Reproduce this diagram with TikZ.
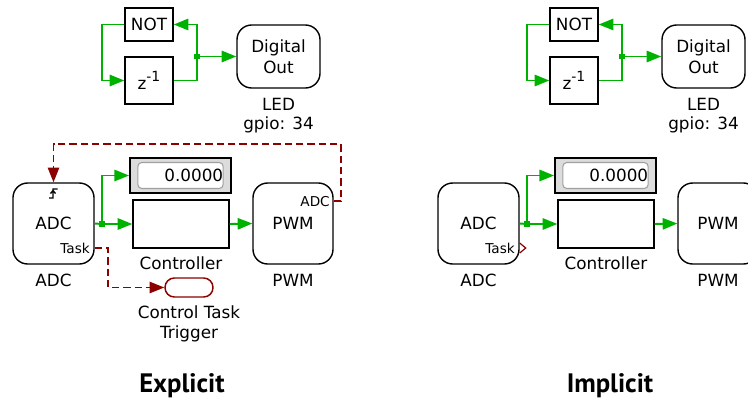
\documentclass[tikz,border=0pt]{standalone}
\usepackage{fontspec}
\setmainfont{DejaVu Sans}
\newfontfamily\titlefont{PT Sans}
\usetikzlibrary{arrows.meta}

\definecolor{sig}{RGB}{0,178,0}
\definecolor{trg}{RGB}{140,0,0}
\definecolor{dispfill}{RGB}{220,220,220}
\definecolor{dispedge}{RGB}{160,160,160}

\tikzset{
  txt/.style={font=\fontsize{12.6}{15.75}\selectfont},
  blk/.style={txt, draw=black, line width=1.05pt, fill=white, inner sep=0pt},
  rblk/.style={blk, rounded corners=11pt},
  lbl/.style={txt, anchor=base, inner sep=0pt},
  small/.style={anchor=base east, inner sep=0pt, font=\fontsize{10.2}{12}\selectfont},
  wire/.style={draw=sig, line width=1.45pt},
  arr/.style={wire, -{Triangle[length=11pt,width=8.5pt]}},
  trig/.style={draw=trg, line width=1.2pt, dash pattern=on 5.5pt off 3pt},
  trigarr/.style={trig, -{Triangle[length=11pt,width=8.5pt]}},
  junc/.style={fill=sig, inner sep=0pt, minimum size=4pt},
  heading/.style={anchor=base, inner sep=0pt, font=\titlefont\bfseries\fontsize{20}{24}\selectfont},
}

% Parts shared by both variants: toggling LED output and the ADC/PWM loop
\newcommand{\commonparts}{%
  % toggle loop driving the LED
  \node[blk, minimum width=36pt, minimum height=24.75pt] (NOT) at (149,24.5) {NOT};
  \node[blk, minimum width=36pt, minimum height=35.25pt] (Z) at (149,80.5)
    {z\raisebox{0.45em}{\fontsize{10.5}{10.5}\selectfont -1}};
  \node[rblk, minimum width=62.25pt, minimum height=47.25pt, align=center] (DOut) at (278.5,56.5) {Digital\\Out};
  \node[lbl] (LEDlbl) at (278.5,110) {LED};
  \node[lbl] (GPIOlbl) at (278.5,129.5) {gpio: 34};
  \node[junc] (J1) at (197,56.5) {};
  \coordinate (loopcorner) at (102,80.5);
  \draw[wire] (Z.east) -| (J1.center);
  \draw[arr] (J1.center) |- (NOT.east);
  \draw[wire] (NOT.west) -| (loopcorner);
  \draw[arr] (loopcorner) -- (Z.west);
  \draw[arr] (J1.center) -- (DOut.west);
  % ADC, display, controller and PWM
  \node[rblk, minimum width=60.75pt, minimum height=60.75pt] (ADC) at (53.5,223.5) {ADC};
  \node[lbl] (ADClbl) at (53.5,286) {ADC};
  \node[draw=black, line width=1.4pt, fill=dispfill, inner sep=0pt,
        minimum width=75.75pt, minimum height=26.25pt] (Disp) at (180.5,175.5) {};
  \node[txt, draw=dispedge, line width=0.8pt, fill=white, rounded corners=3pt,
        inner xsep=0pt, inner ysep=0pt, text width=64pt, align=right,
        minimum height=19.5pt] (DispIn) at (180.5,175.5) {0.0000};
  \node[blk, minimum width=72pt, minimum height=36pt] (Ctrl) at (181,224) {};
  \node[lbl] (Ctrllbl) at (181,269) {Controller};
  \node[rblk, minimum width=60pt, minimum height=60.75pt] (PWM) at (293,223.5) {PWM};
  \node[lbl] (PWMlbl) at (293,286) {PWM};
  \node[junc] (J2) at (102,224) {};
  \draw[wire] (ADC.east) -- (J2.center);
  \draw[arr] (J2.center) |- (Disp.west);
  \draw[arr] (J2.center) -- (Ctrl.west);
  \draw[arr] (Ctrl.east) -- (PWM.west);
  \node[small] (Tasklbl) at (90,253) {Task};
}

\begin{document}
\begin{tikzpicture}[x=0.75pt, y=-0.75pt]
  \clip (0,0) rectangle (748,400);
  \fill[white] (0,0) rectangle (748,400);

  % explicit triggering
  \begin{scope}[name prefix=E-]
    \commonparts
    \node[small] (ADCport) at (330,206) {ADC};
    \coordinate (pwmport) at ([yshift=16.9pt]PWM.east);
    \coordinate (topcorner) at (341,144);
    \draw[trigarr] (pwmport) -| (topcorner) -| (ADC.north);
    % rising-edge trigger mark on the ADC
    \draw[line width=1pt] (49,198) -- (53,198) -- (53,189) -- (57.5,189)
                          (50.5,193.5) -- (53,190.5) -- (55.5,193.5);
    \node[draw=trg, line width=1.1pt, fill=white, rounded corners=7pt, inner sep=0pt,
          minimum width=36pt, minimum height=14.25pt] (Trig) at (189,287.5) {};
    \node[lbl] (Triglbl1) at (189,318) {Control Task};
    \node[lbl] (Triglbl2) at (189,338.5) {Trigger};
    \coordinate (taskport) at ([yshift=-18.4pt]ADC.east);
    \coordinate (taskcorner) at (108,287.5);
    \draw[trigarr] (taskport) -| (taskcorner) -- (Trig.west);
    \node[heading] (Title) at (182,392) {Explicit};
  \end{scope}

  % implicit triggering
  \begin{scope}[xshift=318.75pt, name prefix=I-]
    \commonparts
    \coordinate (taskport) at ([yshift=-18.4pt]ADC.east);
    \draw[draw=trg, line width=0.9pt, line join=miter]
      ([yshift=3.75pt]taskport) -- ([xshift=4.5pt]taskport) -- ([yshift=-3.75pt]taskport);
    \node[heading] (Title) at (185,392) {Implicit};
  \end{scope}
\end{tikzpicture}
\end{document}
